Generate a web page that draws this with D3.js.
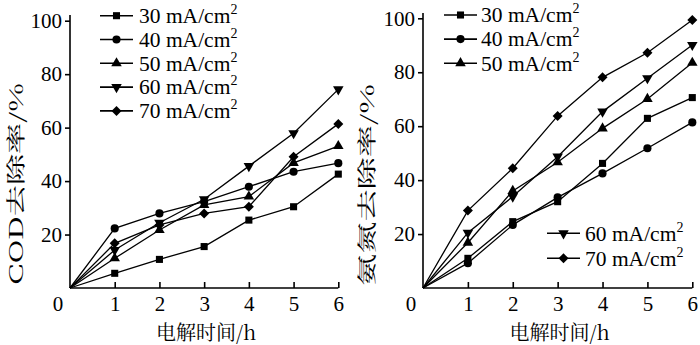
<!DOCTYPE html>
<html lang="en">
<head>
<meta charset="UTF-8">
<title>COD与氨氮去除率</title>
<script src="https://d3js.org/d3.v7.min.js"></script>
<style>
    body { margin: 0; background: #fff; }
    svg { display: block; }
</style>
</head>
<body>
<div id="chart"></div>
<script>
// electrolysis time (h)
const hours = [0, 1, 2, 3, 4, 5, 6];
const currentLabels = ["30", "40", "50", "60", "70"];

// COD removal (%)
const cod30 = [0, 5.5, 10.7, 15.5, 25.4, 30.4, 42.6];
const cod40 = [0, 22.3, 27.9, 32.3, 37.9, 43.5, 46.7];
const cod50 = [0, 11.1, 21.7, 31.1, 34.2, 46.8, 53.1];
const cod60 = [0, 14.2, 24.4, 33.2, 45.6, 57.9, 74.3];
const cod70 = [0, 16.7, 23.6, 27.9, 30.4, 49.1, 61.4];

// ammonia nitrogen removal (%)
const nh30 = [0, 11.0, 24.6, 32.0, 46.2, 62.9, 70.6];
const nh40 = [0, 9.2, 23.4, 33.6, 42.5, 51.8, 61.4];
const nh50 = [0, 16.8, 36.0, 46.6, 59.2, 70.1, 83.5];
const nh60 = [0, 20.5, 33.9, 48.7, 65.4, 77.8, 90.1];
const nh70 = [0, 28.7, 44.4, 63.8, 78.1, 87.2, 99.4];

const yTicks = [20, 40, 60, 80, 100];
const xTicks = [1, 2, 3, 4, 5, 6];

const LATIN = '"Liberation Serif"';
const CJK = '"Noto Serif CJK SC"';
const W = 700, H = 345;
const svg = d3.select("#chart").append("svg").attr("width", W).attr("height", H);

// marker shapes per series: square, circle, up triangle, down triangle, diamond
const markers = [
    { type: d3.symbolSquare, size: 50, rot: 0 },
    { type: d3.symbolCircle, size: 52, rot: 0 },
    { type: d3.symbolTriangle, size: 48, rot: 0 },
    { type: d3.symbolTriangle, size: 48, rot: 180 },
    { type: d3.symbolSquare, size: 50, rot: 45 }
];

function drawMarker(g, i, x, y) {
    const m = markers[i];
    g.append("path")
        .attr("d", d3.symbol().type(m.type).size(m.size)())
        .attr("transform", `translate(${x},${y}) rotate(${m.rot})`)
        .attr("fill", "#000");
}

function legendRow(g, i, y, x0, x1, tx) {
    g.append("line").attr("x1", x0).attr("x2", x1).attr("y1", y).attr("y2", y)
        .attr("stroke", "#000").attr("stroke-width", 1.6);
    drawMarker(g, i, (x0 + x1) / 2, y);
    const t = g.append("text").attr("x", tx).attr("y", y + 7.3)
        .style("font-family", LATIN).attr("font-size", 21.5);
    t.append("tspan").text(currentLabels[i] + " mA/cm");
    t.append("tspan").attr("font-size", 14).attr("dy", -9).text("2");
}

function drawPanel(opt) {
    const g = svg.append("g");
    const x = d3.scaleLinear().domain([0, 6]).range([opt.left, opt.right]);
    const y = d3.scaleLinear().domain([0, 100]).range([opt.bottom, opt.top100]);

    // y axis, ticks outward
    const yAxis = g.append("g").attr("transform", `translate(${opt.left},0)`)
        .call(d3.axisLeft(y).tickValues(yTicks).tickFormat(d3.format("d")).tickSize(5).tickPadding(3));
    yAxis.select(".domain").attr("d", `M0,${opt.axisTop}V${opt.bottom}`);
    // x axis, ticks inward
    const xAxis = g.append("g").attr("transform", `translate(0,${opt.bottom})`)
        .call(d3.axisBottom(x).tickValues(xTicks).tickFormat(d3.format("d")).tickSize(-6).tickPadding(8));
    xAxis.select(".domain").attr("d", `M${opt.left},0H${opt.right}`);
    [yAxis, xAxis].forEach(a => {
        a.attr("font-family", null).attr("font-size", null);
        a.selectAll("text").style("font-family", LATIN).attr("font-size", 21).attr("fill", "#000");
        a.selectAll("path, line").attr("stroke", "#000").attr("stroke-width", 1.6);
    });
    g.append("text").attr("x", opt.left - 12).attr("y", opt.bottom + 23)
        .style("font-family", LATIN).attr("text-anchor", "middle").attr("font-size", 21).text("0");

    // series
    const line = d3.line().x((d, i) => x(hours[i])).y(d => y(d));
    opt.series.forEach((s, k) => {
        g.append("path").datum(s).attr("d", line)
            .attr("fill", "none").attr("stroke", "#000").attr("stroke-width", 1.3);
        s.forEach((v, i) => { if (i > 0) drawMarker(g, k, x(hours[i]), y(v)); });
    });

    // titles
    g.append("text").attr("x", (opt.left + opt.right) / 2 + 2).attr("y", 340)
        .style("font-family", CJK)
        .attr("text-anchor", "middle").attr("font-size", 20).text("电解时间/h");
    g.append("text")
        .attr("transform", `translate(${opt.titleX},${opt.titleY}) rotate(-90)`)
        .style("font-family", CJK)
        .attr("text-anchor", "middle").attr("font-size", 19)
        .attr("textLength", 202).attr("lengthAdjust", "spacingAndGlyphs")
        .text(opt.yTitle);

    return g;
}

const left = drawPanel({
    left: 70, right: 338.3, bottom: 288, top100: 20.7, axisTop: 15,
    series: [cod30, cod40, cod50, cod60, cod70],
    yTitle: "COD去除率/%", titleX: 22.5, titleY: 184
});
[0, 1, 2, 3, 4].forEach(i => legendRow(left, i, 15.7 + 23.8 * i, 100, 133, 139));

const right = drawPanel({
    left: 423, right: 692.3, bottom: 288, top100: 18.3, axisTop: 13,
    series: [nh30, nh40, nh50, nh60, nh70],
    yTitle: "氨氮去除率/%", titleX: 374, titleY: 185
});
[0, 1, 2].forEach(i => legendRow(right, i, 15 + 24.1 * i, 444, 477, 481));
[3, 4].forEach((i, j) => legendRow(right, i, 233.3 + 25 * j, 547, 580, 585));
</script>
</body>
</html>
